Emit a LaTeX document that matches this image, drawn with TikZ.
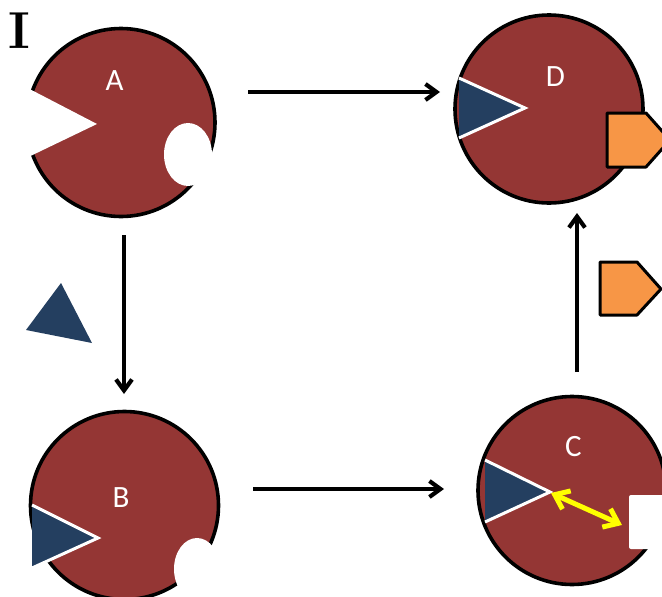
\documentclass[tikz,border=0pt]{standalone}
\usepackage{fontspec}
\newfontfamily\labelfont{Carlito}
\usetikzlibrary{arrows.meta}
\definecolor{cellred}{HTML}{943634}
\definecolor{navy}{HTML}{243F60}
\definecolor{tagorange}{HTML}{F79646}
\definecolor{signal}{HTML}{FFFF00}
\begin{document}
\begin{tikzpicture}[x=1pt,y=-1pt,
  cell/.style={circle, draw=black, fill=cellred, line width=3.6pt, minimum size=188pt, inner sep=0pt},
  celllabel/.style={text=white, font=\labelfont\fontsize{31}{31}\selectfont, inner sep=0pt},
  receptor/.style={fill=navy},
  receptoredge/.style={draw=white, line width=3pt, line join=miter},
  tag/.style={fill=tagorange, draw=black, line width=3pt, line join=round},
  hole/.style={fill=white, draw=none},
  flow/.style={line width=4.2pt, -{Straight Barb[length=11pt,width=16pt]}},
  bind/.style={draw=signal, line width=5pt,
    {Straight Barb[length=13pt,width=20pt]}-{Straight Barb[length=13pt,width=20pt]}},
]
\useasboundingbox (0,0) rectangle (662,597);
\clip (0,0) rectangle (662,597);

% panel numeral
\node[text=black, font=\bfseries\fontsize{52}{52}\selectfont, inner sep=0pt] (numeral) at (19,31) {I};

% cells
\node[cell] (A) at (121,122.5) {};
\node[cell] (B) at (124.5,505.5) {};
\node[cell] (C) at (572,490.5) {};
\node[cell] (D) at (549,109) {};

% cell A: open binding site and white pocket
\fill[hole] (18,83) -- (97,124) -- (18,162) -- cycle;
\fill[hole] (188,154.5) ellipse [x radius=24pt, y radius=31.5pt];

% cell B: bound receptor and pocket
\fill[receptor] (32,505) -- (98,538) -- (32,568) -- cycle;
\draw[receptoredge] (32,505) -- (98,538) -- (32,568);
\fill[hole] (197,569) ellipse [x radius=23pt, y radius=31pt];

% cell C: bound receptor and white block
\fill[receptor] (485,460) -- (550,492) -- (485,522) -- cycle;
\draw[receptoredge] (485,460) -- (550,492) -- (485,522);
\fill[hole, rounded corners=2pt] (629,495) rectangle (672,549);

% cell D: bound receptor and tag
\fill[receptor] (459,78) -- (525,108) -- (459,138) -- cycle;
\draw[receptoredge] (459,78) -- (525,108) -- (459,138);
\draw[tag] (607,113) -- (646,113) -- (670,140) -- (646,167) -- (607,167) -- cycle;

% labels
\node[celllabel] (Alabel) at (114.5,80.5) {A};
\node[celllabel] (Blabel) at (121,497.5) {B};
\node[celllabel] (Clabel) at (573.5,446.5) {C};
\node[celllabel] (Dlabel) at (555.5,76.5) {D};

% free ligand and free tag
\fill[receptor] (61,283) -- (26,330) -- (92,343) -- cycle;
\draw[tag] (600,262) -- (637,262) -- (661,289) -- (637,315) -- (600,315) -- cycle;

% transitions
\coordinate (ad1) at (248,92);
\coordinate (ad2) at (440,92);
\coordinate (ab1) at (124,235);
\coordinate (ab2) at (124,394);
\coordinate (bc1) at (253,489);
\coordinate (bc2) at (444,489);
\coordinate (cd1) at (577,372);
\coordinate (cd2) at (577,213);
\draw[flow] (ad1) -- (ad2);
\draw[flow] (ab1) -- (ab2);
\draw[flow] (bc1) -- (bc2);
\draw[flow] (cd1) -- (cd2);

% interaction inside C
\coordinate (y1) at (551,493);
\coordinate (y2) at (622,525);
\draw[bind] (y1) -- (y2);
\end{tikzpicture}
\end{document}
